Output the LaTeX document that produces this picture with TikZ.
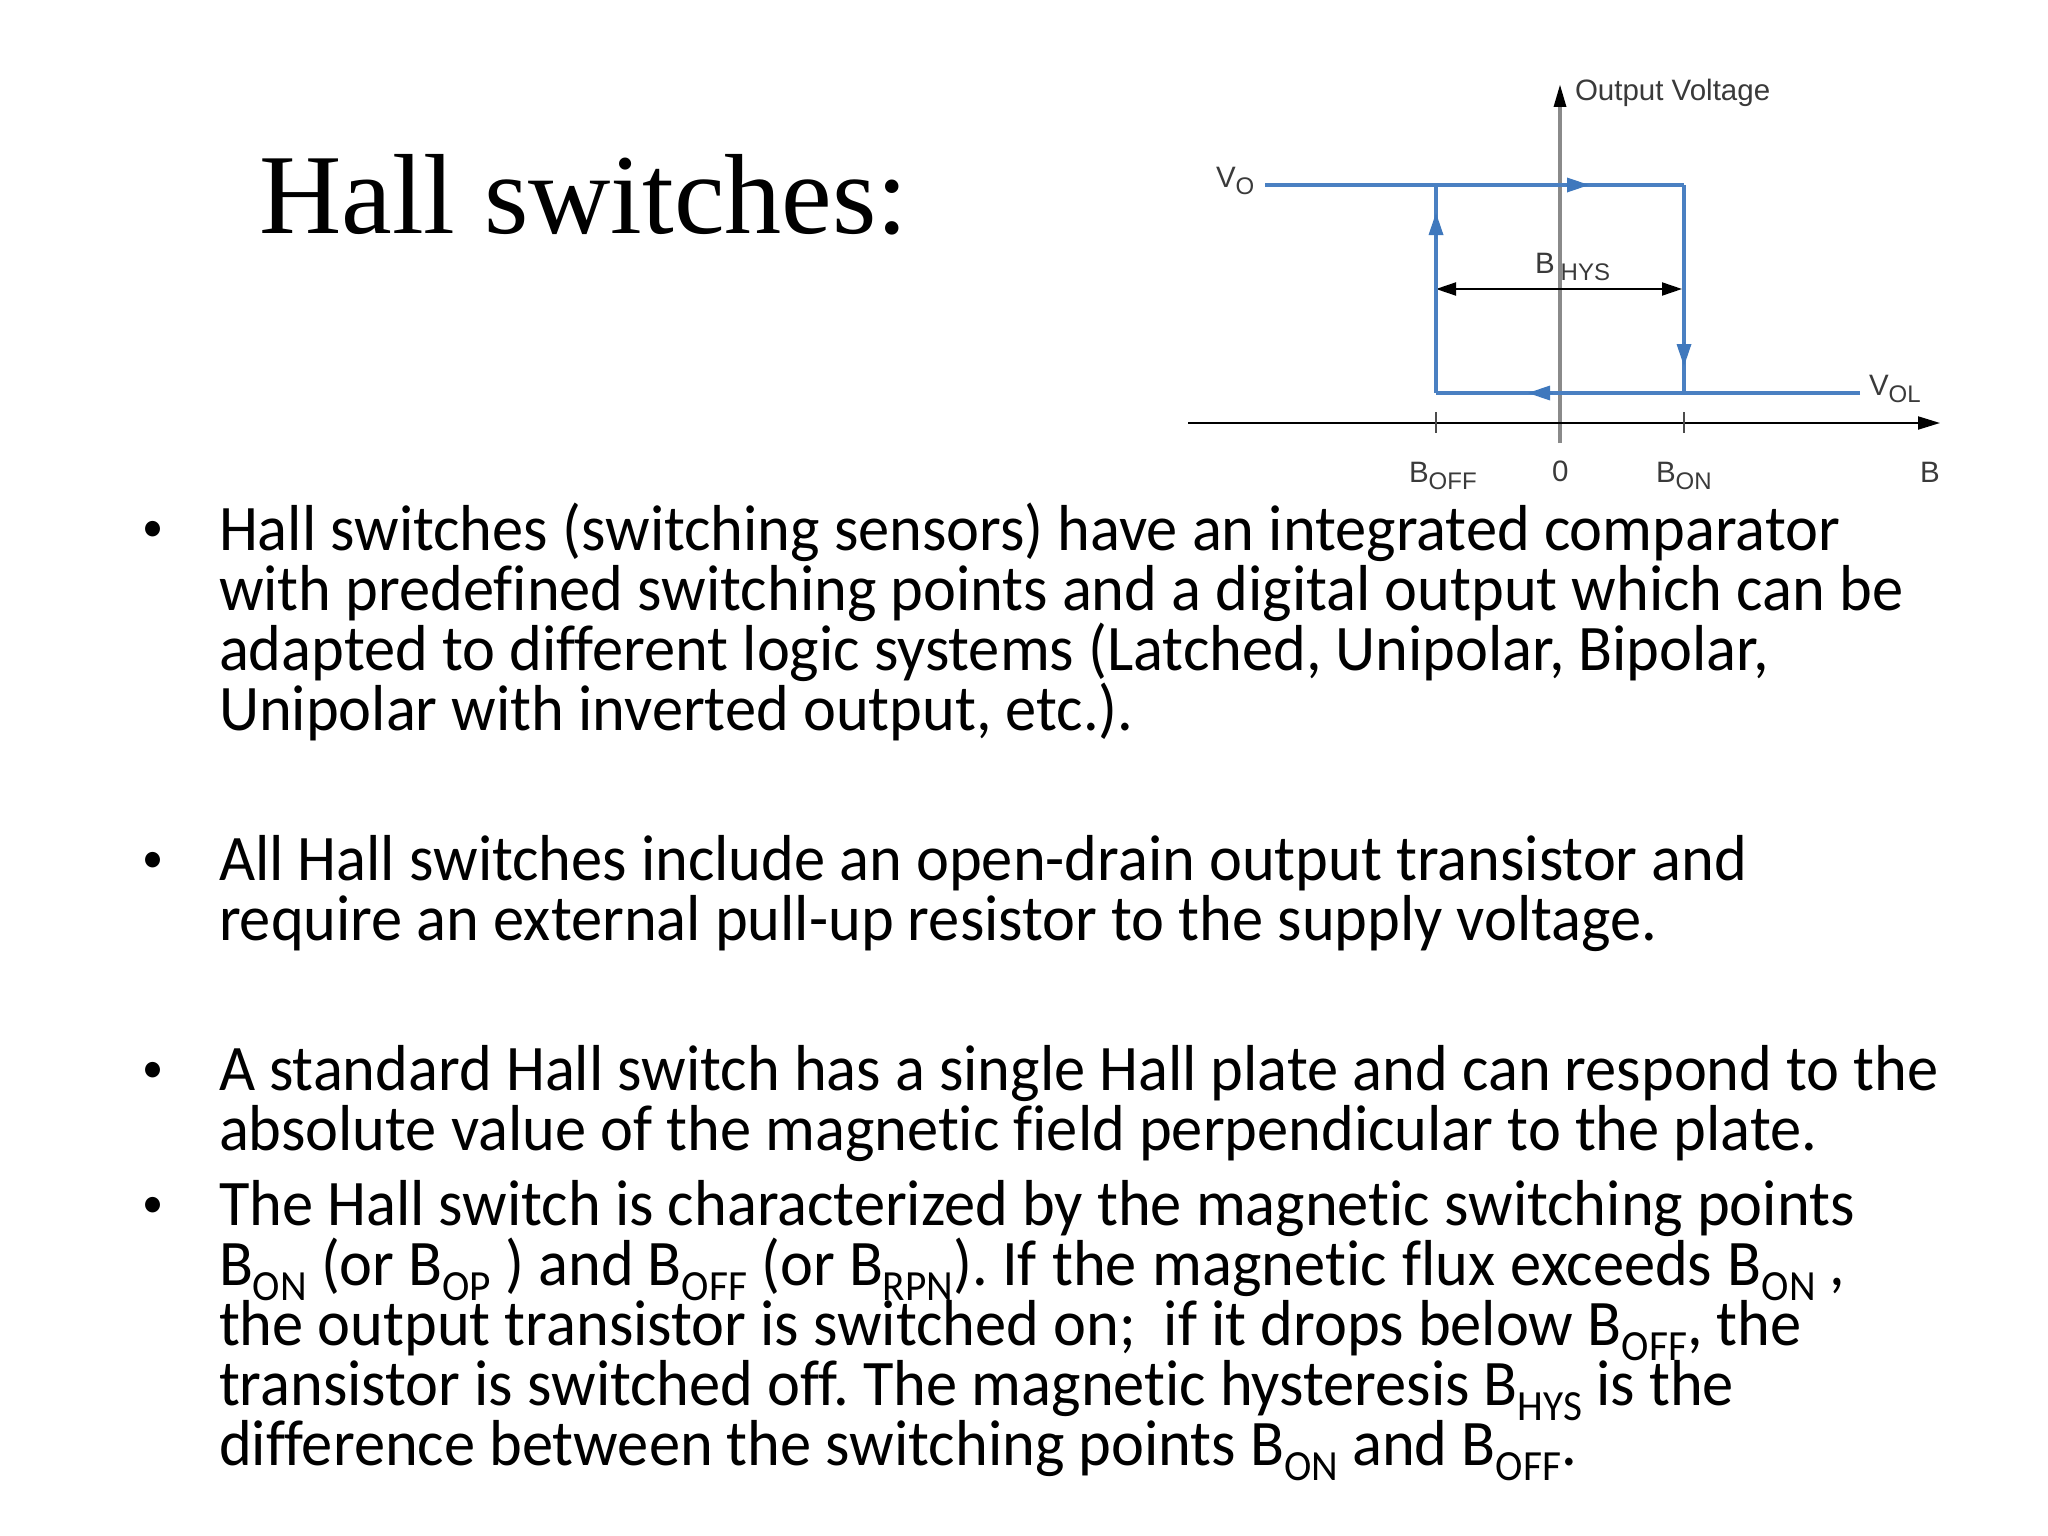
\documentclass[tikz,border=0pt]{standalone}
\usepackage{fontspec}
\setmainfont[FakeStretch=0.96,Ligatures=NoCommon]{Carlito}
\newfontfamily\titlefont{Liberation Serif}
\newfontfamily\plotfont{Liberation Sans}
\usetikzlibrary{arrows.meta}
\definecolor{curveblue}{HTML}{4A80C2}
\definecolor{tipblue}{HTML}{3F78BD}
\definecolor{axisgray}{HTML}{8A8A8A}
\definecolor{plottext}{HTML}{3A3A3A}
\newcommand{\bodysub}[1]{\raisebox{-15pt}{\fontsize{43}{43}\selectfont #1}}
\newcommand{\plotsub}[1]{\raisebox{-7pt}{\fontsize{24}{24}\selectfont #1}}
\tikzset{
  bodyline/.style={anchor=base west,inner sep=0pt,outer sep=0pt,font=\fontsize{65}{65}\selectfont\frenchspacing},
  bulletmark/.style={anchor=base,inner sep=0pt,outer sep=0pt,font=\fontsize{44}{44}\selectfont},
  plotlabel/.style={anchor=base west,inner sep=0pt,outer sep=0pt,text=plottext,font=\plotfont\fontsize{29.5}{29.5}\selectfont},
  curve/.style={draw=curveblue,line width=4pt},
  curvethick/.style={draw=curveblue,line width=4.5pt},
  flowtip/.style={tipblue,line width=0pt,-{Triangle[length=22pt,width=15pt,fill=tipblue]}},
  blacktip/.style={draw=black,line width=2pt,{Triangle[length=20pt,width=13pt]}-{Triangle[length=20pt,width=13pt]}},
  xaxisline/.style={draw=black,line width=2pt,-{Triangle[length=22pt,width=13pt]}},
  yaxisline/.style={draw=axisgray,line width=4.5pt},
  ticksty/.style={draw=black!70,line width=1.5pt}
}
\begin{document}
\begin{tikzpicture}[x=1pt,y=-1pt]
\useasboundingbox (0,0) rectangle (2048,1536);
\fill[white] (0,0) rectangle (2048,1536);

\node[anchor=base west,inner sep=0pt,font=\titlefont\fontsize{114}{114}\selectfont] (title) at (259,233) {Hall switches:};

% plot coordinates
\coordinate (vostart) at (1265,185);
\coordinate (tl) at (1436,185);
\coordinate (tr) at (1684,185);
\coordinate (bl) at (1436,393);
\coordinate (br) at (1684,393);
\coordinate (volend) at (1860,393);
\coordinate (xstart) at (1188,423);
\coordinate (xend) at (1940,423);
\coordinate (ybot) at (1560,443);
\coordinate (ytop) at (1560,107);
\coordinate (ytip) at (1560,85);
\coordinate (hl) at (1436,289);
\coordinate (hr) at (1682,289);

\draw[yaxisline] (ybot) -- (ytop);
\draw[-{Triangle[length=22pt,width=13pt]},draw=black,line width=0pt] (ytop) -- (ytip);
\draw[xaxisline] (xstart) -- (xend);
\draw[ticksty] (tl |- 0,412) -- (tl |- 0,433);
\draw[ticksty] (tr |- 0,412) -- (tr |- 0,433);
\draw[blacktip] (hl) -- (hr);

\draw[curvethick] (vostart) -- (tr);
\draw[curve] (tr) -- (br);
\draw[curvethick] (volend) -- (bl);
\draw[curve] (bl) -- (tl);

\draw[flowtip] (1566,185) -- (1589,185);
\draw[flowtip] (1436,238) -- (1436,213);
\draw[flowtip] (1684,342) -- (1684,366);
\draw[flowtip] (1552,393) -- (1528,393);

\node[plotlabel] (yname) at (1575,101) {Output Voltage};
\node[plotlabel] (vo) at (1216,187) {V\plotsub{O}};
\node[plotlabel] (vol) at (1869,395) {V\plotsub{OL}};
\node[plotlabel] (bhys) at (1535,273) {B\kern6pt\plotsub{HYS}};
\node[plotlabel] (boff) at (1409,482) {B\plotsub{OFF}};
\node[plotlabel] (zero) at (1552,481) {0};
\node[plotlabel] (bon) at (1656,482) {B\plotsub{ON}};
\node[plotlabel] (bname) at (1920,482) {B};

% body text
\foreach \yy/\nm in {541/ba,872/bb,1082/bc,1217/bd}
  \node[bulletmark] (\nm) at (153,\yy) {•};

\node[bodyline] (l1) at (219,550) {Hall switches (switching sensors) have an integrated comparator};
\node[bodyline] (l2) at (219,610) {with predefined switching points and a digital output which can be};
\node[bodyline] (l3) at (219,670) {adapted to different logic systems (Latched, Unipolar, Bipolar,};
\node[bodyline] (l4) at (219,730) {Unipolar with inverted output, etc.).};
\node[bodyline] (l5) at (219,880) {All Hall switches include an open-drain output transistor and};
\node[bodyline] (l6) at (219,940) {require an external pull-up resistor to the supply voltage.};
\node[bodyline] (l7) at (219,1090) {A standard Hall switch has a single Hall plate and can respond to the};
\node[bodyline] (l8) at (219,1150) {absolute value of the magnetic field perpendicular to the plate.};
\node[bodyline] (l9) at (219,1225) {The Hall switch is characterized by the magnetic switching points};
\node[bodyline] (l10) at (219,1285) {B\bodysub{ON} (or B\bodysub{OP} ) and B\bodysub{OFF} (or B\bodysub{RPN}). {\spaceskip=15.5pt If the magnetic flux exceeds }B\bodysub{ON} ,};
\node[bodyline] (l11) at (219,1345) {the output transistor is switched on;~ if it drops below B\bodysub{OFF}, the};
\node[bodyline] (l12) at (219,1405) {transistor is switched off. The magnetic hysteresis B\bodysub{HYS} is the};
\node[bodyline] (l13) at (219,1465) {difference between the switching points B\bodysub{ON} and B\bodysub{OFF}.};
\end{tikzpicture}
\end{document}
